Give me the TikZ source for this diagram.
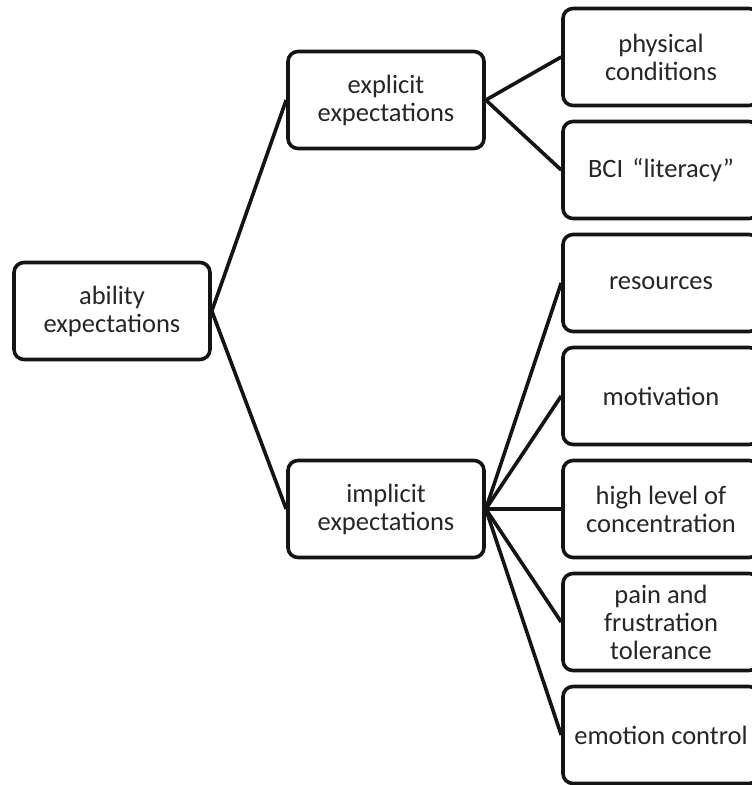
\documentclass[tikz,border=0pt]{standalone}
\usepackage{fontspec}
\setmainfont{Carlito}
\begin{document}
\begin{tikzpicture}[x=1pt,y=-1pt,
  box/.style={draw=black!92, line width=3.6pt, rounded corners=10pt, fill=white,
    minimum width=196pt, minimum height=97pt, align=center, inner sep=2pt,
    text=black!85, font=\fontsize{26.5}{28}\selectfont},
  link/.style={draw=black!92, line width=3.6pt}]
\useasboundingbox (0,0) rectangle (752,785);
\clip (0,0) rectangle (752,785);
\node[box] (ability) at (112,311) {ability\\expectations};
\node[box] (explicit) at (386,100) {explicit\\expectations};
\node[box] (implicit) at (386,509) {implicit\\expectations};
\node[box] (physical) at (661,57) {physical\\conditions};
\node[box] (bci) at (661,170) {BCI\hspace{0.35em}“literacy”};
\node[box] (resources) at (661,283) {resources};
\node[box] (motivation) at (661,396) {motivation};
\node[box] (concentration) at (661,509) {high level of\\concentration};
\node[box] (pain) at (661,622) {pain and\\frustration\\tolerance};
\node[box] (emotion) at (661,735) {emotion control};
\draw[link] (ability.east) -- (explicit.west);
\draw[link] (ability.east) -- (implicit.west);
\draw[link] (explicit.east) -- (physical.west);
\draw[link] (explicit.east) -- (bci.west);
\foreach \n in {resources,motivation,concentration,pain,emotion}
  \draw[link] (implicit.east) -- (\n.west);
\end{tikzpicture}
\end{document}
